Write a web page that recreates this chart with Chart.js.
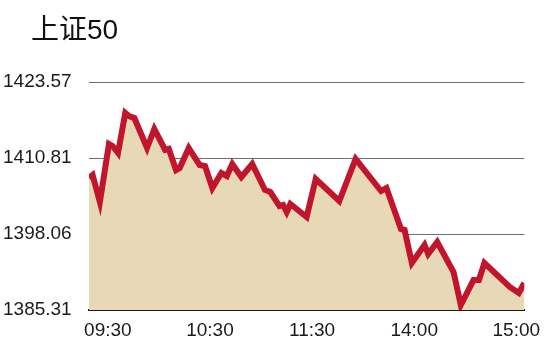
<!DOCTYPE html>
<html>
<head>
<meta charset="utf-8">
<script src="https://cdn.jsdelivr.net/npm/chart.js@4/dist/chart.umd.min.js"></script>
<style>
  html, body { margin: 0; padding: 0; background: #ffffff; }
  #wrap { width: 550px; height: 346px; position: relative; }
</style>
</head>
<body>
<div id="wrap"><canvas id="c" width="550" height="346"></canvas></div>
<script>
// ---- data ----
const chartTitle = "上证50";
const times = ["09:30","09:32","09:36","09:41","09:43","09:46","09:50","09:52","09:55","10:02",
               "10:06","10:12","10:14","10:18","10:20","10:25","10:31","10:34","10:38","10:43",
               "10:46","10:49","10:54","11:00","11:07","11:10","11:15","11:17","11:19","11:21",
               "11:30","13:05","13:18","13:27","13:41","13:44","13:52","13:54","13:58","14:05",
               "14:07","14:12","14:21","14:25","14:32","14:35","14:38","14:52","14:57","15:00"];
const values = [1407.46,1407.96,1403.43,1413.17,1412.83,1411.66,1418.37,1417.86,1417.53,1412.49,
                1415.68,1412.16,1412.33,1408.80,1409.14,1412.49,1409.64,1409.47,1405.78,1408.30,
                1407.80,1409.81,1407.63,1409.81,1405.45,1405.11,1402.76,1402.93,1401.75,1403.10,
                1400.92,1407.29,1403.60,1410.65,1405.28,1405.78,1398.90,1398.73,1393.20,1396.22,
                1394.71,1396.72,1391.69,1386.15,1390.34,1390.34,1393.20,1389.17,1388.16,1389.84];
const yTicks = [1385.31, 1398.06, 1410.81, 1423.57];
const xTickLabels = ["09:30", "10:30", "11:30", "14:00", "15:00"];

// trading minutes since the open (lunch break removed)
function tradingMinute(t) {
  const [h, m] = t.split(":").map(Number);
  const mins = h * 60 + m;
  return mins <= 11 * 60 + 30 ? mins - (9 * 60 + 30) : 120 + mins - 13 * 60;
}
const points = times.map((t, i) => ({ x: tradingMinute(t), y: values[i] }));

const FONT = '"Liberation Sans", Arial, "Noto Sans CJK SC", sans-serif';

const titlePlugin = {
  id: 'leftTitle',
  afterDraw(chart) {
    const ctx = chart.ctx;
    ctx.save();
    ctx.font = '28px ' + FONT;
    ctx.fillStyle = '#111111';
    ctx.textAlign = 'left';
    ctx.textBaseline = 'alphabetic';
    ctx.fillText(chartTitle, 31, 39);
    ctx.restore();
  }
};

new Chart(document.getElementById('c'), {
  type: 'line',
  data: {
    datasets: [{
      data: points,
      borderColor: '#c1152d',
      borderWidth: 6,
      backgroundColor: '#e8d9b6',
      fill: 'start',
      pointRadius: 0,
      pointHoverRadius: 0,
      tension: 0,
      borderJoinStyle: 'miter'
    }]
  },
  plugins: [titlePlugin],
  options: {
    responsive: false,
    animation: false,
    devicePixelRatio: 1,
    layout: { padding: { left: 3, right: 23, top: 82, bottom: 0 } },
    plugins: {
      legend: { display: false },
      tooltip: { enabled: false },
      title: { display: false }
    },
    scales: {
      x: {
        type: 'linear',
        min: 0,
        max: 240,
        grid: { display: false, drawTicks: false },
        border: { display: true, color: '#1a1a1a', width: 2 },
        afterBuildTicks(scale) {
          const start = 10.4, end = 235.6, n = xTickLabels.length;
          scale.ticks = xTickLabels.map((_, i) => ({ value: start + i * (end - start) / (n - 1) }));
        },
        afterFit(scale) { scale.height = 36; },
        ticks: {
          autoSkip: false,
          maxRotation: 0,
          padding: 9.5,
          color: '#1a1a1a',
          font: { family: FONT, size: 19 },
          callback: (v, i) => xTickLabels[i]
        }
      },
      y: {
        min: yTicks[0],
        max: yTicks[yTicks.length - 1],
        afterBuildTicks(scale) {
          scale.ticks = yTicks.map(v => ({ value: v }));
        },
        afterFit(scale) { scale.width = 86; },
        grid: { color: '#6e6e6e', lineWidth: 1, drawTicks: false },
        border: { display: false },
        ticks: {
          crossAlign: 'far',
          padding: 0,
          color: '#1a1a1a',
          font: { family: FONT, size: 19 },
          callback: v => Number(v).toFixed(2)
        }
      }
    }
  }
});
</script>
</body>
</html>
